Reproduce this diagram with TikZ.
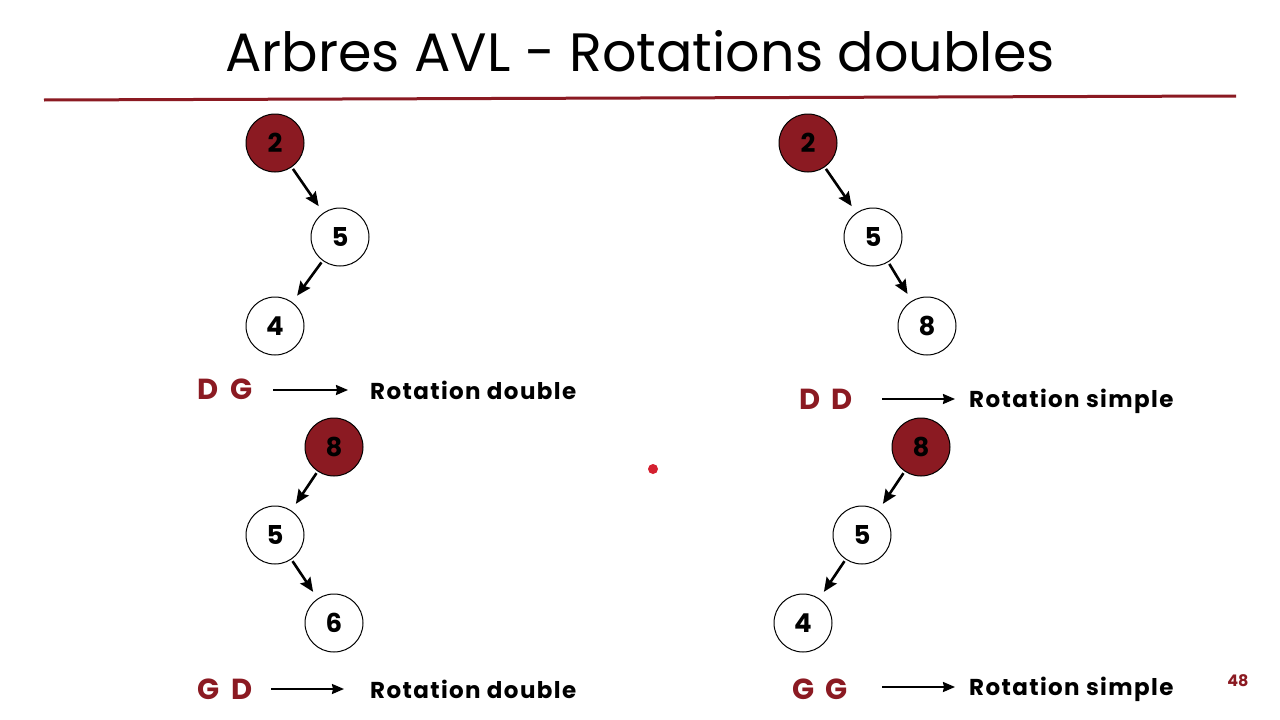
\documentclass[tikz,border=0pt]{standalone}
\usepackage{fontspec}
\setmainfont{Poppins}
\usetikzlibrary{arrows.meta}
\definecolor{avlred}{HTML}{8B1A22}
\definecolor{dotred}{HTML}{D42030}
\newcommand{\mycasefont}{\fontsize{29}{29}\selectfont\bfseries\spaceskip 0.4em\relax}
\tikzset{
  nd/.style={circle,draw=black,line width=1pt,minimum size=58pt,inner sep=0pt,font=\fontsize{26}{26}\selectfont\bfseries},
  rootnd/.style={nd,fill=avlred},
  edge/.style={-{Stealth[length=14pt,width=12pt,inset=2pt]},line width=2.6pt,shorten >=8pt,shorten <=2pt},
  case/.style={text=avlred,font=\mycasefont,inner sep=0pt},
  res/.style={anchor=west,font=\fontsize{23}{23}\selectfont\bfseries\addfontfeature{LetterSpace=6},inner sep=0pt},
  larr/.style={-{Stealth[length=12pt,width=10pt,inset=1pt]},line width=2pt}
}
\begin{document}
\begin{tikzpicture}[x=1pt,y=-1pt]
\useasboundingbox (0,0) rectangle (1280,720);
\fill[white] (0,0) rectangle (1280,720);
\node[font=\fontsize{54}{54}\selectfont,inner sep=0pt] (title) at (640,51) {Arbres AVL - Rotations doubles};
\coordinate (l1) at (44,100);
\coordinate (l2) at (1236,96);
\draw[avlred,line width=3pt] (l1) -- (l2);
% top-left
\node[rootnd] (a2) at (275,143) {2};
\node[nd] (a5) at (340,237) {5};
\node[nd] (a4) at (275,326) {4};
\draw[edge] (a2) -- (a5);
\draw[edge] (a5) -- (a4);
\node[case] (c1) at (225,389) {D G};
\coordinate (c1s) at (273,390);
\coordinate (c1e) at (348,390);
\draw[larr] (c1s) -- (c1e);
\node[res] (r1) at (370,390) {Rotation double};
% bottom-left
\node[rootnd] (b8) at (334,447) {8};
\node[nd] (b5) at (275,535) {5};
\node[nd] (b6) at (334,623) {6};
\draw[edge] (b8) -- (b5);
\draw[edge] (b5) -- (b6);
\node[case] (c2) at (225,689) {G D};
\coordinate (c2s) at (271,689);
\coordinate (c2e) at (344,689);
\draw[larr] (c2s) -- (c2e);
\node[res] (r2) at (370,689) {Rotation double};
% top-right
\node[rootnd] (d2) at (808,143) {2};
\node[nd] (d5) at (873,237) {5};
\node[nd] (d8) at (927,326) {8};
\draw[edge] (d2) -- (d5);
\draw[edge] (d5) -- (d8);
\node[case] (c3) at (826,399) {D D};
\coordinate (c3s) at (882,399);
\coordinate (c3e) at (955,399);
\draw[larr] (c3s) -- (c3e);
\node[res] (r3) at (969,401) {Rotation simple};
% bottom-right
\node[rootnd] (e8) at (921,447) {8};
\node[nd] (e5) at (862,535) {5};
\node[nd] (e4) at (803,623) {4};
\draw[edge] (e8) -- (e5);
\draw[edge] (e5) -- (e4);
\node[case] (c4) at (820,689) {G G};
\coordinate (c4s) at (882,687);
\coordinate (c4e) at (955,687);
\draw[larr] (c4s) -- (c4e);
\node[res] (r4) at (969,689) {Rotation simple};
% dot and page number
\fill[dotred] (653,469) circle (5);
\node[text=avlred,font=\fontsize{16}{16}\selectfont\bfseries,inner sep=0pt] (pg) at (1238,681) {48};
\end{tikzpicture}
\end{document}
